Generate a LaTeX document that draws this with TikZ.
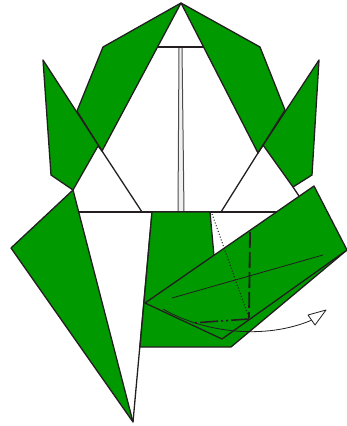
\documentclass[tikz,border=0pt]{standalone}
\usepackage{xcolor}
\definecolor{paper}{HTML}{009900}
\definecolor{crease}{HTML}{231F20}
\tikzset{
  greenface/.style={draw=crease,fill=paper,line width=1.3pt,line join=round},
  foldline/.style={draw=crease,line width=1.3pt},
  centreline/.style={draw=black!70,line width=1pt},
  thinline/.style={draw=crease,line width=0.8pt},
}
\begin{document}
\begin{tikzpicture}[x=1pt,y=-1pt]
  \useasboundingbox (0,0) rectangle (347,426);
  % bands
  \draw[greenface] (181,3) -- (103,47) -- (77,111) -- (102,151) -- cycle;
  \draw[greenface] (181,3) -- (260,47) -- (285,110) -- (258,153) -- cycle;
  % ears
  \draw[greenface] (43,60) -- (102,151) -- (98,146) -- (73,190) -- (51,175) -- cycle;
  \draw[greenface] (319,60) -- (258,153) -- (263,145) -- (293,187) -- (312,175) -- cycle;
  % head and centre
  \draw[foldline] (158,47) -- (203,47);
  \fill[black!6] (179,48) -- (182,48) -- (184,212) -- (178,212) -- cycle;
  \draw[centreline] (179,48) -- (178,212);
  \draw[centreline] (182,48) -- (184,212);
  \draw[foldline] (102,151) -- (142,212);
  \draw[foldline] (258,153) -- (221,212);
  \draw[foldline] (293,187) -- (299,196);
  \draw[foldline] (79,212) -- (280,212);
  % legs
  \draw[greenface] (73,190) -- (11,248) -- (133,422) -- cycle;
  \draw[foldline] (133,422) -- (152,212);
  \draw[greenface] (152,212) -- (210,212) -- (214,256) -- (347,250) -- (231,347) -- (140,347) -- cycle;
  % flap
  \draw[greenface] (145,303) -- (314,186) -- (347,250) -- (222,339) -- cycle;
  % creases
  \draw[thinline] (172,298) -- (323,255);
  \draw[crease,line width=1pt,dash pattern=on 1pt off 2pt] (212,214) -- (249,318);
  \draw[crease,line width=1.8pt,dash pattern=on 16pt off 4pt] (250,232) -- (249,318);
  \draw[crease,line width=1.6pt,dash pattern=on 18pt off 3pt on 2pt off 3pt on 2pt off 3pt] (249,319) -- (192,323);
  % arrow
  \draw[thinline] (163,309) .. controls (205,333) and (265,340) .. (312,320);
  \draw[thinline,fill=white,line join=round] (326,310) -- (308,315) -- (315,325) -- cycle;
\end{tikzpicture}
\end{document}
